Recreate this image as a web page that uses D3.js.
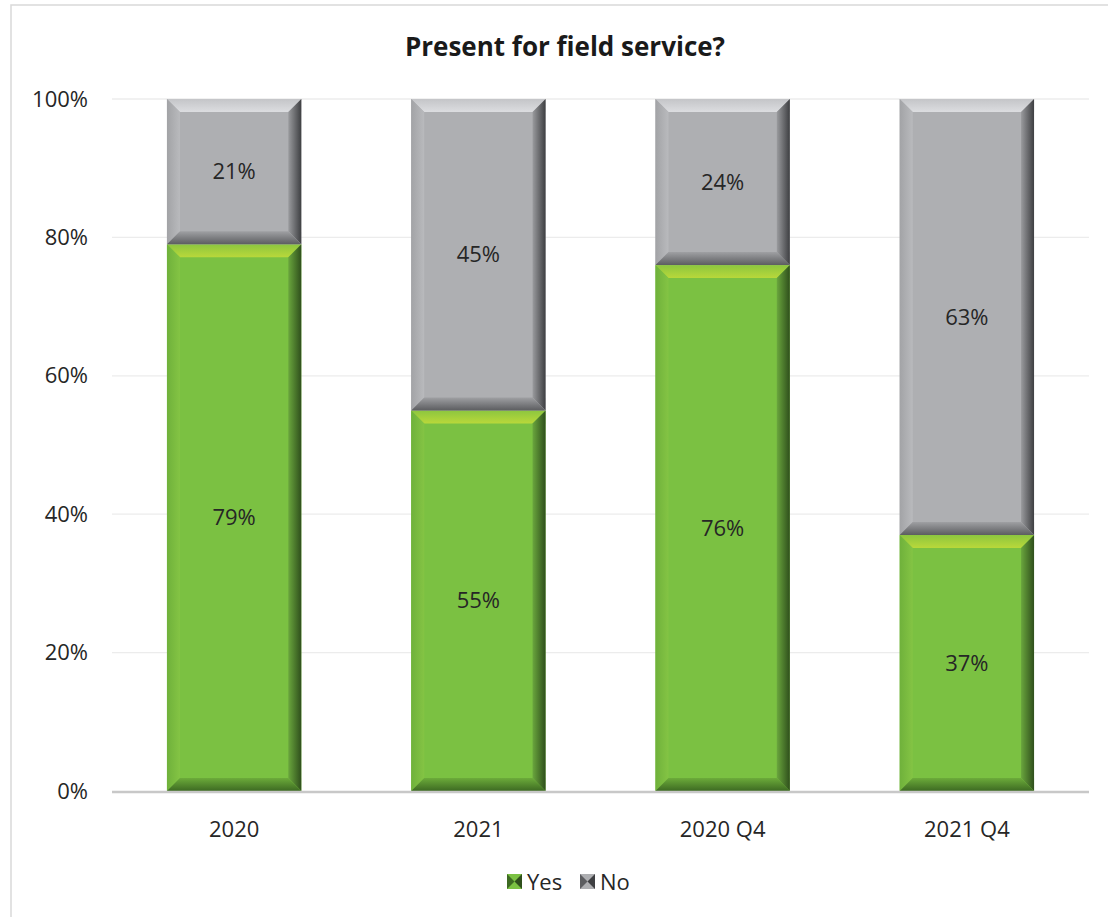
<!DOCTYPE html>
<html><head><meta charset="utf-8">
<script src="https://cdn.jsdelivr.net/npm/d3@7"></script>
<style>body{margin:0;background:#fff}svg{display:block;font-family:"Open Sans",sans-serif}</style>
</head><body><svg id="c" width="1108" height="917"></svg>
<script>
const categories = ["2020","2021","2020 Q4","2021 Q4"];
const yesValues = [79,55,76,37];
const noValues = [21,45,24,63];
const yTicks = [0,20,40,60,80,100];
const seriesNames = ["Yes","No"];
const title = "Present for field service?";

const svg = d3.select("#c");
const m={l:112,r:1089,t:99,b:791};
const FS=22;

svg.append("rect").attr("x",11).attr("y",5).attr("width",1120).attr("height",940)
  .attr("fill","#fff").attr("stroke","#d9d9d9").attr("stroke-width",1.5);

const x=d3.scaleBand().domain(categories).range([m.l,m.r]).paddingInner(0.45).paddingOuter(0.225);
const y=d3.scaleLinear().domain([0,100]).range([m.b,m.t]);

svg.append("g").selectAll("line").data(yTicks.filter(d=>d>0)).join("line")
  .attr("x1",m.l).attr("x2",m.r).attr("y1",d=>y(d)).attr("y2",d=>y(d))
  .attr("stroke","#ececec").attr("stroke-width",1.3);

const yAxis=d3.axisLeft(y).tickValues(yTicks).tickFormat(d=>d+"%").tickSize(0).tickPadding(0);
const ya=svg.append("g").attr("transform",`translate(88,0)`).call(yAxis);
ya.select(".domain").remove();
ya.selectAll("text").attr("font-size",FS).attr("fill","#262626").attr("font-family","Open Sans");

const defs=svg.append("defs");
function grad(id,c1,c2,x1,y1,x2,y2){
  const g=defs.append("linearGradient").attr("id",id).attr("x1",x1).attr("y1",y1).attr("x2",x2).attr("y2",y2);
  g.append("stop").attr("offset","0%").attr("stop-color",c1);
  g.append("stop").attr("offset","100%").attr("stop-color",c2);
}
const pal={
  Yes:{main:"#7bc142",top:["#8cc63f","#b9d83a"],left:["#6fb13b","#84c444"],right:["#6aa63d","#2f4f1c"],bot:["#6cab3a","#3d6a22"]},
  No:{main:"#aeafb2",top:["#c4c5c8","#dcdde0"],left:["#a2a3a6","#b9babd"],right:["#9a9b9e","#3e3f42"],bot:["#9fa0a3","#5c5d60"]}
};
Object.entries(pal).forEach(([k,p])=>{
  grad("t"+k,p.top[0],p.top[1],"0","0","0","1");
  grad("l"+k,p.left[0],p.left[1],"0","0","1","0");
  grad("r"+k,p.right[0],p.right[1],"0","0","1","0");
  grad("b"+k,p.bot[0],p.bot[1],"0","0","0","1");
});

const segs=[];
categories.forEach((c,i)=>{
  segs.push({cat:c,s:"Yes",y0:0,y1:yesValues[i],v:yesValues[i]});
  segs.push({cat:c,s:"No",y0:yesValues[i],y1:yesValues[i]+noValues[i],v:noValues[i]});
});
const B=13;
const g=svg.append("g");
segs.forEach(d=>{
  const x0=x(d.cat),x1=x0+x.bandwidth();
  const yt=y(d.y1),yb=y(d.y0);
  const b=Math.min(B,(yb-yt)/2);
  const p=pal[d.s];
  const gg=g.append("g");
  gg.append("rect").attr("x",x0).attr("y",yt).attr("width",x1-x0).attr("height",yb-yt).attr("fill",p.main);
  const poly=(pts,fill)=>gg.append("polygon").attr("points",pts.map(q=>q.join(",")).join(" ")).attr("fill",fill);
  poly([[x0,yt],[x1,yt],[x1-b,yt+b],[x0+b,yt+b]],`url(#t${d.s})`);
  poly([[x0,yt],[x0+b,yt+b],[x0+b,yb-b],[x0,yb]],`url(#l${d.s})`);
  poly([[x1,yt],[x1,yb],[x1-b,yb-b],[x1-b,yt+b]],`url(#r${d.s})`);
  poly([[x0,yb],[x0+b,yb-b],[x1-b,yb-b],[x1,yb]],`url(#b${d.s})`);
  gg.append("text").attr("x",(x0+x1)/2).attr("y",(yt+yb)/2).attr("dy","0.35em")
    .attr("text-anchor","middle").attr("font-size",FS).attr("fill","#262626").text(d.v+"%");
});

svg.append("line").attr("x1",m.l).attr("x2",m.r).attr("y1",m.b+1).attr("y2",m.b+1)
  .attr("stroke","#c8c8c8").attr("stroke-width",2.5);
const xAxis=d3.axisBottom(x).tickSize(0).tickPadding(0);
const xa=svg.append("g").attr("transform",`translate(0,${m.b+46})`).call(xAxis);
xa.select(".domain").remove();
xa.selectAll("text").attr("font-size",FS).attr("fill","#262626").attr("font-family","Open Sans").attr("dy","0");

svg.append("text").attr("x",565).attr("y",56).attr("text-anchor","middle")
  .attr("font-size",26).attr("font-weight","bold").attr("fill","#1a1a1a").text(title);

const lg=svg.append("g");
const lx=[507,580];
seriesNames.forEach((s,i)=>{
  const sx=lx[i],sy=874,sz=15;
  const p=pal[s];
  lg.append("rect").attr("x",sx).attr("y",sy).attr("width",sz).attr("height",sz).attr("fill",p.main);
  lg.append("polygon").attr("points",`${sx},${sy} ${sx+sz/2},${sy+sz/2} ${sx},${sy+sz}`).attr("fill",p.bot[1]);
  lg.append("polygon").attr("points",`${sx+sz},${sy} ${sx+sz/2},${sy+sz/2} ${sx+sz},${sy+sz}`).attr("fill",p.right[1]);
  lg.append("text").attr("x",sx+sz+5).attr("y",sy+sz/2).attr("dy","0.37em").attr("font-size",FS).attr("fill","#262626").text(s);
});
</script></body></html>
